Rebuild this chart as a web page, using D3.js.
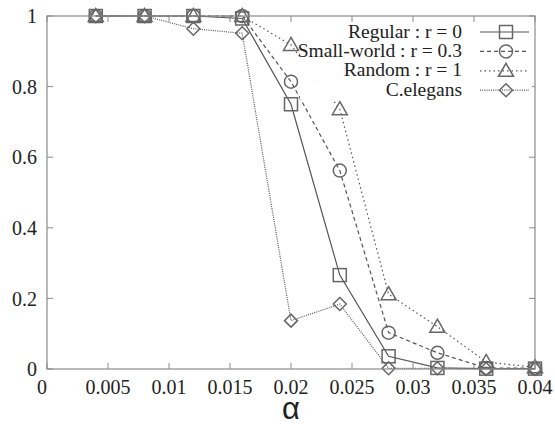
<!DOCTYPE html>
<html>
<head>
  <meta charset='utf-8'>
  <style>
    body { margin: 0; background: #fff; }
    #chart { position: relative; width: 555px; height: 424px; overflow: hidden; }
    #chart svg { position: absolute; left: 0; top: 0; }
    .lbl { position: absolute; white-space: nowrap; line-height: 1; color: #222; font-family: 'Liberation Serif'; }
  </style>
  <script src='https://cdn.jsdelivr.net/npm/d3@7'></script>
</head>
<body>
<div id='chart'></div>
<script>
  let [width, height] = [555, 424]
  let margin = { left: 47, right: 20, top: 16, bottom: 55 }

  // data
  let alphas = [0.004, 0.008, 0.012, 0.016, 0.020, 0.024, 0.028, 0.032, 0.036, 0.040]
  let regular = [1, 1, 1, 0.993, 0.75, 0.266, 0.036, 0.003, 0.001, 0.001]
  let smallWorld = [1, 1, 1, 1, 0.814, 0.562, 0.103, 0.046, 0.003, 0.002]
  let random = [1, 1, 1, 1, 0.918, 0.736, 0.212, 0.12, 0.02, 0.005]
  let elegans = [1, 1, 0.964, 0.951, 0.137, 0.184, 0.002, 0.002, 0, 0]
  let names = ['Regular : r = 0', 'Small-world : r = 0.3', 'Random : r = 1', 'C.elegans']
  let xTicks = [0, 0.005, 0.01, 0.015, 0.02, 0.025, 0.03, 0.035, 0.04]
  let yTicks = [0, 0.2, 0.4, 0.6, 0.8, 1]

  let series = [
    { name: names[0], values: regular, marker: 'square', dash: null },
    { name: names[1], values: smallWorld, marker: 'circle', dash: '4,3' },
    { name: names[2], values: random, marker: 'triangle', dash: '1.5,3' },
    { name: names[3], values: elegans, marker: 'diamond', dash: '1,1.2' }
  ]

  let x = d3.scaleLinear([0, 0.04], [margin.left, width - margin.right])
  let y = d3.scaleLinear([0, 1], [height - margin.bottom, margin.top])

  let chart = d3.select('#chart')
  let svg = chart.append('svg')
    .attr('width', width)
    .attr('height', height)

  let frame = '#8a8a8a'
  let ink = '#555'

  // text as html labels, baseline placed at (lx, ly)
  let label = (txt, lx, ly, size, anchor, family) => {
    let shift = anchor === 'end' ? '-100%' : anchor === 'middle' ? '-50%' : '0'
    let asc = family ? 0.8465 : 0.8375
    let d = chart.append('div')
      .attr('class', 'lbl')
      .style('left', lx + 'px')
      .style('top', (ly - asc * size) + 'px')
      .style('font-size', size + 'px')
      .style('transform', `translateX(${shift})`)
      .text(txt)
    if (family) d.style('font-family', family)
    return d
  }

  // ticks mirrored on all four sides
  let axes = svg.append('g').attr('stroke', frame).attr('stroke-width', 1)
  xTicks.forEach(t => {
    axes.append('line').attr('x1', x(t)).attr('x2', x(t)).attr('y1', y(0)).attr('y2', y(0) - 6)
    axes.append('line').attr('x1', x(t)).attr('x2', x(t)).attr('y1', y(1)).attr('y2', y(1) + 6)
  })
  yTicks.forEach(t => {
    axes.append('line').attr('x1', x(0)).attr('x2', x(0) + 6).attr('y1', y(t)).attr('y2', y(t))
    axes.append('line').attr('x1', x(0.04)).attr('x2', x(0.04) - 6).attr('y1', y(t)).attr('y2', y(t))
  })

  xTicks.forEach(t => label(String(t), t === 0 ? x(t) - 5 : x(t), y(0) + 25, 20, 'middle'))
  yTicks.forEach(t => label(String(t), x(0) - 10, y(t) + 7, 20, 'end'))
  label('α', (x(0) + x(0.04)) / 2, height - 5, 31, 'middle', "'Liberation Sans'")

  let drawMarker = (g, type, cx, cy) => {
    let s = 6.5
    let m
    if (type === 'square') m = g.append('rect').attr('x', cx - s).attr('y', cy - s).attr('width', 2 * s).attr('height', 2 * s)
    else if (type === 'circle') m = g.append('circle').attr('cx', cx).attr('cy', cy).attr('r', s)
    else if (type === 'triangle') m = g.append('path').attr('d', `M${cx},${cy - s - 1}L${cx + s + 1},${cy + s - 1}L${cx - s - 1},${cy + s - 1}Z`)
    else m = g.append('path').attr('d', `M${cx},${cy - s}L${cx + s},${cy}L${cx},${cy + s}L${cx - s},${cy}Z`)
    m.attr('fill', 'none').attr('stroke', '#666').attr('stroke-width', 1.5)
  }

  let line = d3.line().x((d, i) => x(alphas[i])).y(d => y(d))

  series.forEach(s => {
    svg.append('path')
      .attr('d', line(s.values))
      .attr('fill', 'none')
      .attr('stroke', ink)
      .attr('stroke-width', 1.2)
      .attr('stroke-dasharray', s.dash)
    let g = svg.append('g')
    s.values.forEach((v, i) => drawMarker(g, s.marker, x(alphas[i]), y(v)))
  })

  // frame
  svg.append('rect')
    .attr('x', x(0)).attr('y', y(1))
    .attr('width', x(0.04) - x(0)).attr('height', y(0) - y(1))
    .attr('fill', 'none').attr('stroke', frame).attr('stroke-width', 1.2)

  // legend
  let legend = svg.append('g')
  series.forEach((s, i) => {
    let ly = 32 + i * 19.4
    legend.append('rect').attr('x', 300).attr('y', ly - 10).attr('width', 232).attr('height', 19.4).attr('fill', '#fff')
    label(s.name, 462, ly + 6, 19.5, 'end')
    legend.append('line')
      .attr('x1', 480).attr('x2', 529).attr('y1', ly).attr('y2', ly)
      .attr('stroke', ink).attr('stroke-width', 1.2)
      .attr('stroke-dasharray', s.dash)
    drawMarker(legend, s.marker, 506, ly)
  })
</script>
</body>
</html>
